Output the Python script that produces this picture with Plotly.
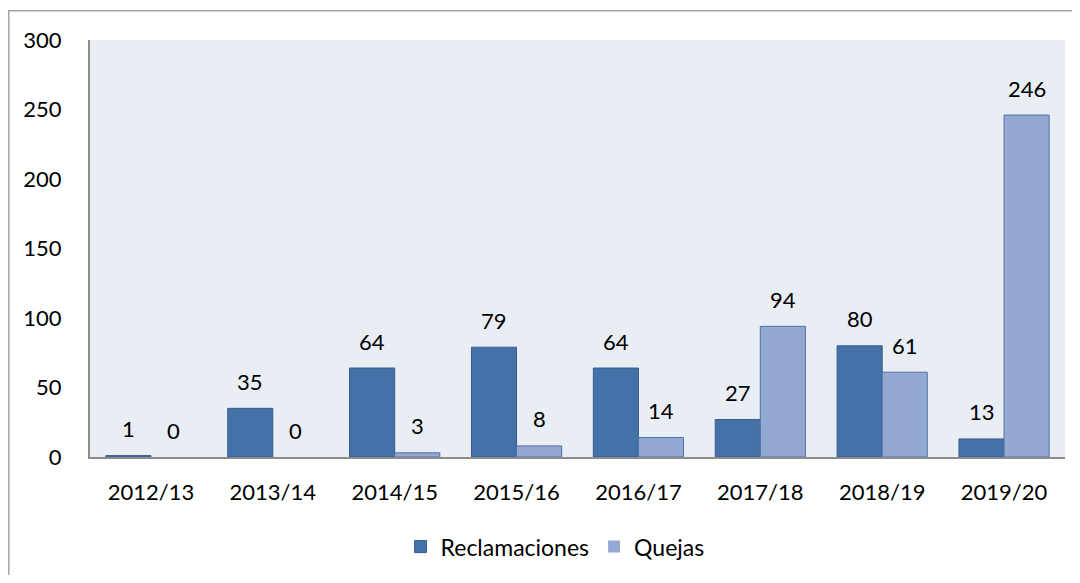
import plotly.graph_objects as go

categories = ["2012/13", "2013/14", "2014/15", "2015/16", "2016/17", "2017/18", "2018/19", "2019/20"]
reclamaciones = [1, 35, 64, 79, 64, 27, 80, 13]
quejas = [0, 0, 3, 8, 14, 94, 61, 246]

FONT = "Lato"
FS = 22
# the page body has an 8px margin, so the figure is sized to fit inside the window
W, H = 1064, 567
ML, MR, MT, MB = 82, 7, 32, 116
plot_w = W - ML - MR
plot_h = H - MT - MB
bar_frac = 0.37
shift_px = plot_w / len(categories) * bar_frac / 2


def outline(values):
    return [1 if v > 0 else 0 for v in values]


fig = go.Figure()
fig.add_trace(go.Bar(
    name="Reclamaciones", x=categories, y=reclamaciones,
    marker=dict(color="#4472A8", line=dict(color="#375D8C", width=outline(reclamaciones))),
))
fig.add_trace(go.Bar(
    name="Quejas", x=categories, y=quejas,
    marker=dict(color="#94A9D1", line=dict(color="#4F71A6", width=outline(quejas))),
))

annotations = []
for c, r, q in zip(categories, reclamaciones, quejas):
    for v, s in ((r, -shift_px), (q, shift_px)):
        annotations.append(dict(
            x=c, y=v, xref="x", yref="y", text=str(v), showarrow=False,
            xshift=s, yshift=27, yanchor="middle",
            font=dict(family=FONT, size=FS, color="#000000"),
        ))

fig.update_layout(
    width=W, height=H,
    margin=dict(l=ML, r=MR, t=MT, b=MB),
    paper_bgcolor="#FFFFFF",
    plot_bgcolor="#E9EDF4",
    barmode="group",
    bargap=0.26,
    bargroupgap=0,
    font=dict(family=FONT, size=FS, color="#000000"),
    showlegend=True,
    legend=dict(
        orientation="h", x=0.477, xanchor="center", y=-0.215, yanchor="middle",
        font=dict(family=FONT, size=23, color="#000000"),
        itemwidth=30, tracegroupgap=0,
    ),
    annotations=annotations,
    shapes=[dict(
        type="rect", xref="paper", yref="paper",
        x0=(0.8 - ML) / plot_w, x1=(W + 40 - ML) / plot_w,
        y0=-(MB + 40) / plot_h,
        y1=1 + (MT - 2.5) / plot_h,
        line=dict(color="#A6A6A6", width=1.5), layer="below",
    )],
)
fig.update_xaxes(
    showgrid=False, showline=True, linecolor="#8C8C8C", linewidth=2,
    ticks="", ticklabelstandoff=15, tickfont=dict(family=FONT, size=FS),
)
fig.update_yaxes(
    range=[0, 300], dtick=50, showgrid=False, zeroline=False,
    showline=True, linecolor="#8C8C8C", linewidth=2,
    ticks="", ticklabelstandoff=22, tickfont=dict(family=FONT, size=FS),
)

fig.write_html("out.html")
